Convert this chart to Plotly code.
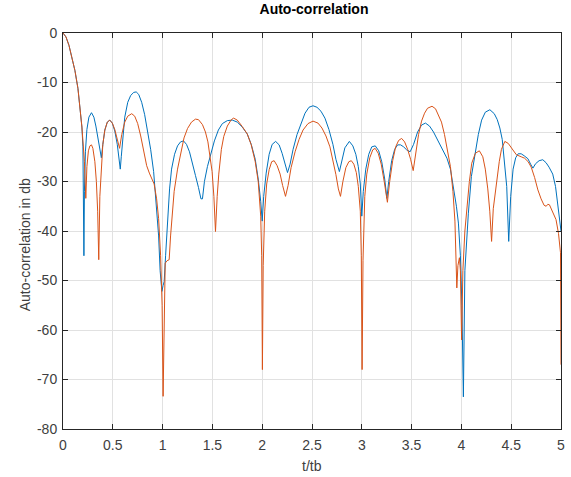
import plotly.graph_objects as go

# ---- data (t/tb, dB) ----
blue_x = [0.00, 0.03, 0.06, 0.09, 0.12, 0.15, 0.17, 0.19, 0.20, 0.205, 0.21, 0.215, 0.225, 0.24, 0.26, 0.286,
          0.31, 0.33, 0.355, 0.375, 0.385, 0.40, 0.42, 0.445, 0.47, 0.495, 0.52, 0.545, 0.565, 0.575, 0.585,
          0.60, 0.62, 0.65, 0.68, 0.71, 0.735, 0.76, 0.79, 0.82, 0.85, 0.88, 0.91, 0.935, 0.96, 0.975, 0.993,
          1.005, 1.016, 1.03, 1.049, 1.07, 1.09, 1.12, 1.15, 1.18, 1.21, 1.24, 1.27, 1.30, 1.33, 1.36, 1.385,
          1.40, 1.42, 1.45, 1.48, 1.52, 1.56, 1.60, 1.65, 1.70, 1.75, 1.80, 1.85, 1.89, 1.93, 1.96, 1.985,
          2.0, 2.015, 2.04, 2.07, 2.10, 2.135, 2.17, 2.20, 2.23, 2.254, 2.28, 2.31, 2.35, 2.39, 2.43, 2.47,
          2.51, 2.55, 2.59, 2.63, 2.67, 2.71, 2.74, 2.775, 2.80, 2.83, 2.875, 2.91, 2.94, 2.965, 2.985, 3.0,
          3.015, 3.04, 3.07, 3.10, 3.135, 3.17, 3.20, 3.23, 3.252, 3.27, 3.30, 3.33, 3.36, 3.39, 3.42, 3.45,
          3.485, 3.52, 3.56, 3.60, 3.639, 3.68, 3.72, 3.76, 3.80, 3.855, 3.89, 3.92, 3.95, 3.97, 3.99, 4.005,
          4.02, 4.035, 4.055, 4.07, 4.10, 4.137, 4.17, 4.203, 4.24, 4.286, 4.33, 4.36, 4.386, 4.41, 4.436,
          4.455, 4.475, 4.495, 4.519, 4.545, 4.57, 4.60, 4.63, 4.668, 4.695, 4.718, 4.745, 4.78, 4.817, 4.85,
          4.88, 4.917, 4.945, 4.967, 4.985, 5.0]
blue_y = [0, -0.8, -2.5, -4.8, -7.6, -11.2, -14.5, -19, -23, -30, -45, -32, -24, -19.5, -17, -16.1,
          -17, -18.8, -21.5, -24, -25.2, -22.5, -19.6, -18, -17.6, -18.2, -19.8, -22.5, -25.5, -27.5, -25,
          -21, -17, -14, -12.6, -12, -11.9, -12.4, -14, -16.5, -19.8, -23.5, -28, -33.7, -41, -48, -52.2,
          -51, -50.2, -45, -38, -31.5, -27.5, -24.5, -22.8, -22, -21.8, -22.5, -24, -26.2, -28.8, -31.2, -33.5,
          -33.5, -30, -27, -24.8, -21.8, -19.6, -18.3, -17.7, -17.6, -18, -19, -20.4, -22.5, -25.5, -29.5, -34,
          -38, -33, -28.3, -24.5, -22.5, -21.9, -22.6, -24.3, -26.5, -28.2, -26.5, -23.5, -20.5, -18.3, -16.2, -15,
          -14.7, -15, -15.8, -17.2, -19.5, -22.5, -25.5, -28, -25.8, -23.2, -21.9, -22.8, -24.5, -27, -30.5, -37,
          -32, -27.5, -24.5, -23, -22.8, -23.8, -26, -29.5, -33.4, -30, -25.8, -23.5, -22.6, -22.6, -23, -23.6,
          -24, -22.5, -20, -18.6, -18.2, -18.8, -20, -21.5, -23, -25.3, -27.5, -31, -35, -38.4, -45, -55,
          -73.5, -48, -40, -36.4, -29, -24.3, -20.5, -17.6, -16, -15.5, -16.3, -17.5, -19.2, -21.5, -26.3,
          -31, -42.1, -33, -27.5, -25.2, -24.4, -24.4, -24.8, -25.4, -26.5, -27.3, -26.4, -25.8, -25.6, -26.2,
          -27.1, -28.5, -31, -34.4, -37, -40]

orange_x = [0.00, 0.03, 0.06, 0.09, 0.12, 0.15, 0.17, 0.19, 0.20, 0.215, 0.229, 0.24, 0.255, 0.27, 0.286,
            0.30, 0.32, 0.335, 0.348, 0.359, 0.37, 0.385, 0.40, 0.42, 0.445, 0.47, 0.495, 0.52, 0.545, 0.568,
            0.59, 0.62, 0.65, 0.69, 0.72, 0.75, 0.78, 0.81, 0.84, 0.867, 0.89, 0.915, 0.94, 0.96, 0.98, 0.995,
            1.005, 1.015, 1.026, 1.045, 1.066, 1.08, 1.099, 1.116, 1.15, 1.182, 1.215, 1.25, 1.29, 1.33, 1.36,
            1.40, 1.43, 1.455, 1.475, 1.497, 1.515, 1.531, 1.548, 1.564, 1.59, 1.614, 1.65, 1.69, 1.713, 1.75,
            1.80, 1.85, 1.89, 1.93, 1.96, 1.985, 1.995, 2.002, 2.01, 2.025, 2.045, 2.07, 2.095, 2.12, 2.15, 2.18,
            2.205, 2.234, 2.26, 2.29, 2.33, 2.37, 2.41, 2.46, 2.51, 2.56, 2.60, 2.64, 2.68, 2.71, 2.74, 2.765,
            2.786, 2.81, 2.84, 2.87, 2.895, 2.92, 2.945, 2.965, 2.985, 2.995, 3.003, 3.012, 3.03, 3.05, 3.08,
            3.11, 3.134, 3.165, 3.195, 3.225, 3.257, 3.28, 3.31, 3.34, 3.37, 3.40, 3.43, 3.46, 3.49, 3.516,
            3.54, 3.57, 3.60, 3.63, 3.66, 3.705, 3.74, 3.77, 3.80, 3.83, 3.86, 3.89, 3.915, 3.935, 3.954, 3.965,
            3.98, 3.99, 4.002, 4.015, 4.035, 4.054, 4.08, 4.104, 4.14, 4.18, 4.215, 4.24, 4.265, 4.285, 4.303,
            4.32, 4.34, 4.353, 4.38, 4.402, 4.436, 4.47, 4.50, 4.552, 4.60, 4.635, 4.67, 4.701, 4.735, 4.768,
            4.80, 4.83, 4.851, 4.868, 4.884, 4.91, 4.95, 4.975, 4.995, 5.0]
orange_y = [0, -0.8, -2.5, -4.8, -7.6, -11.2, -14.5, -19, -21.8, -26, -33.4, -27, -23.8, -22.8, -22.6,
            -23.3, -26, -30, -36, -45.8, -33, -26, -22.5, -19.6, -18, -17.6, -18.2, -19.5, -21.5, -23.3,
            -20.5, -18, -16.8, -16.3, -16.8, -18.3, -20.8, -24, -26.8, -28.3, -29.2, -30.5, -33.5, -37.5, -45, -55,
            -73.4, -55, -46.5, -46, -45.8, -41, -35.7, -32, -27.5, -24, -21.2, -19.3, -18, -17.4, -17.5,
            -18.5, -20, -22, -24.5, -28, -33, -40.1, -33, -28.5, -23.5, -20.9, -18.8, -17.5, -17.2, -17.6,
            -18.9, -20.4, -22.6, -26, -30, -37, -45, -68, -47, -36, -30.5, -27.6, -26, -25.8, -26.8, -28.5,
            -30.8, -33, -30.8, -27.2, -24, -21.5, -19.6, -18.3, -17.8, -18.2, -19.2, -20.8, -23, -25.5, -28.6, -31.5,
            -33, -30, -27.2, -26, -25.8, -26.5, -28.2, -31, -36, -45, -68, -46, -33, -28.5, -25.2,
            -23.6, -23.3, -24.3, -26.5, -30, -34.2, -30, -25.8, -23, -21.7, -21.3, -22, -23.5, -25.5, -27.8,
            -24.5, -20.5, -17.8, -16.2, -15.2, -14.8, -15.3, -16.5, -18, -20.5, -23.5, -27, -32, -38, -51.5, -47,
            -45.4, -48, -62, -48, -40, -35, -30, -26.3, -24.3, -23.8, -25, -27.5, -31.5, -36, -42.1,
            -35.5, -32, -30, -26, -23.5, -21.9, -22.3, -23.2, -24.6, -25, -25.3, -26, -27.1, -29.2, -31.7,
            -33.5, -34.8, -35, -34.6, -34.7, -35.8, -37.7, -40.5, -44.4, -67]

x_ticks = [0, 0.5, 1, 1.5, 2, 2.5, 3, 3.5, 4, 4.5, 5]
x_tick_text = ["0", "0.5", "1", "1.5", "2", "2.5", "3", "3.5", "4", "4.5", "5"]
y_ticks = [-80, -70, -60, -50, -40, -30, -20, -10, 0]
y_tick_text = ["-80", "-70", "-60", "-50", "-40", "-30", "-20", "-10", "0"]

BLUE = "#0072BD"
ORANGE = "#D95319"
AX = "#262626"
TXT = "#404040"
FONT = "Liberation Sans, Arial, sans-serif"

W, H = 571, 477
L, R, T, B = 63, 6, 33, 48

fig = go.Figure()
fig.add_trace(go.Scatter(x=blue_x, y=blue_y, mode="lines",
                         line=dict(color=BLUE, width=1), showlegend=False))
fig.add_trace(go.Scatter(x=orange_x, y=orange_y, mode="lines",
                         line=dict(color=ORANGE, width=1), showlegend=False))

axis_common = dict(
    showline=True, linecolor=AX, linewidth=1, mirror="ticks",
    ticks="inside", ticklen=5, tickwidth=1, tickcolor=AX,
    showgrid=True, gridcolor="#e1e1e1", gridwidth=1,
    zeroline=False, tickfont=dict(family=FONT, size=14, color=TXT),
)

fig.update_layout(
    width=W, height=H,
    margin=dict(l=L, r=R, t=T, b=B),
    paper_bgcolor="white", plot_bgcolor="white",
    title=dict(text="<b>Auto-correlation</b>", x=(L + (W - R - L) / 2) / W, xanchor="center",
               y=1 - 4 / H, yanchor="top",
               font=dict(family=FONT, size=14, color="black")),
    xaxis=dict(range=[0, 5], tickvals=x_ticks, ticktext=x_tick_text, ticklabelstandoff=3,
               **axis_common),
    yaxis=dict(range=[-80, 0], tickvals=y_ticks, ticktext=y_tick_text, ticklabelstandoff=2,
               **axis_common),
    annotations=[
        dict(text="t/tb", xref="paper", yref="paper", x=0.5, y=-(466 - (H - B)) / (H - T - B),
             xanchor="center", yanchor="middle", showarrow=False,
             font=dict(family=FONT, size=14, color=TXT)),
        dict(text="Auto-correlation in db", xref="paper", yref="paper", x=-(L - 25) / (W - L - R),
             y=1 - (245 - T) / (H - T - B), xanchor="center", yanchor="middle", textangle=-90,
             showarrow=False, font=dict(family=FONT, size=14, color=TXT)),
    ],
)

fig.write_html("out.html")
